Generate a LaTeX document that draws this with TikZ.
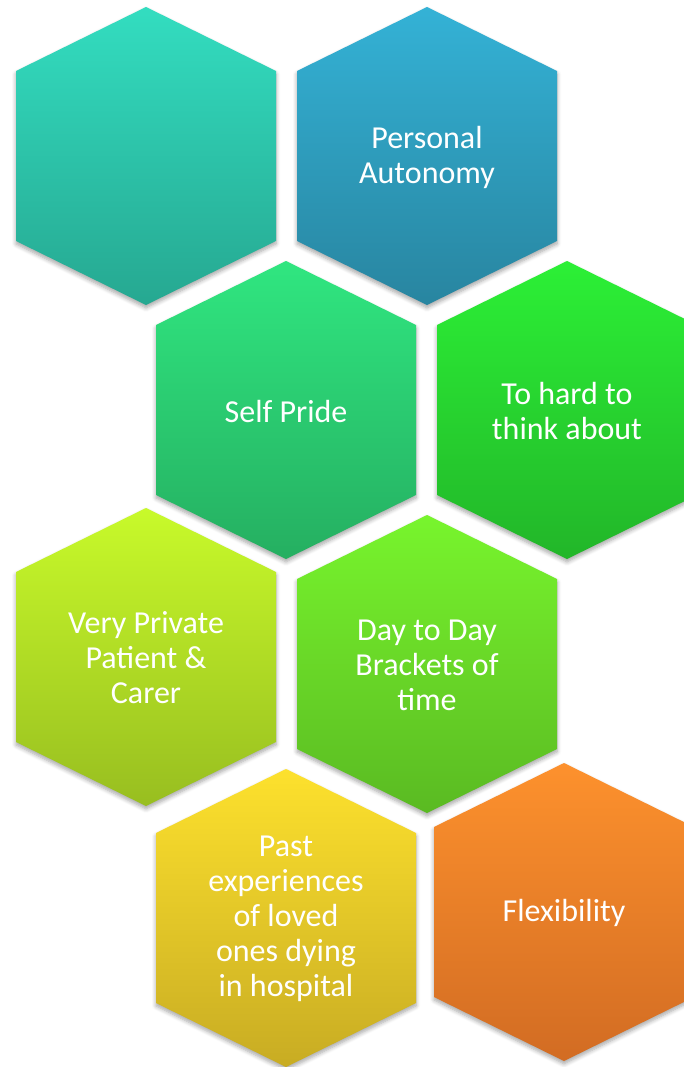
\documentclass[tikz,border=0pt]{standalone}
\usepackage{fontspec}
\setmainfont{Carlito}
\usetikzlibrary{shadows.blur}
\tikzset{
  hexshape/.style={blur shadow={shadow xshift=0pt, shadow yshift=-3pt, shadow blur steps=6, shadow blur radius=4pt, shadow opacity=35}},
  hextext/.style={text=white, align=center, font=\fontsize{32}{35}\selectfont, inner sep=0pt}
}
\newcommand{\hexcell}[7]{%
  \path[hexshape, top color=#4, bottom color=#5]
    (#2,#3-149) -- (#2+130,#3-85) -- (#2+130,#3+85) -- (#2,#3+149)
    -- (#2-130,#3+85) -- (#2-130,#3-85) -- cycle;
  \node[hextext] (#1) at (#2,#3+1) {#6};
}
\definecolor{t1}{RGB}{51,221,192}\definecolor{b1}{RGB}{38,168,145}
\definecolor{t2}{RGB}{52,178,214}\definecolor{b2}{RGB}{40,133,160}
\definecolor{t3}{RGB}{48,230,128}\definecolor{b3}{RGB}{37,175,97}
\definecolor{t4}{RGB}{44,240,54}\definecolor{b4}{RGB}{34,182,41}
\definecolor{t5}{RGB}{200,250,42}\definecolor{b5}{RGB}{152,190,32}
\definecolor{t6}{RGB}{120,245,45}\definecolor{b6}{RGB}{90,186,34}
\definecolor{t7}{RGB}{253,225,45}\definecolor{b7}{RGB}{200,172,35}
\definecolor{t8}{RGB}{253,145,45}\definecolor{b8}{RGB}{210,108,35}
\begin{document}
\begin{tikzpicture}[x=1pt,y=-1pt]
\useasboundingbox (0,0) rectangle (684,1067);
\clip (0,0) rectangle (684,1067);
\hexcell{h1}{146}{156}{t1}{b1}{}{}
\hexcell{h2}{427}{156}{t2}{b2}{Personal\\Autonomy}{}
\hexcell{h3}{286}{410}{t3}{b3}{Self Pride}{}
\hexcell{h4}{567}{410}{t4}{b4}{To hard to\\think about}{}
\hexcell{h5}{146}{657}{t5}{b5}{Very Private\\Patient \&\\Carer}{}
\hexcell{h6}{427}{664}{t6}{b6}{Day to Day\\Brackets of\\time}{}
\hexcell{h7}{286}{918}{t7}{b7}{Past\\experiences\\of loved\\ones dying\\in hospital}{}
\hexcell{h8}{564}{912}{t8}{b8}{Flexibility}{}
\end{tikzpicture}
\end{document}
